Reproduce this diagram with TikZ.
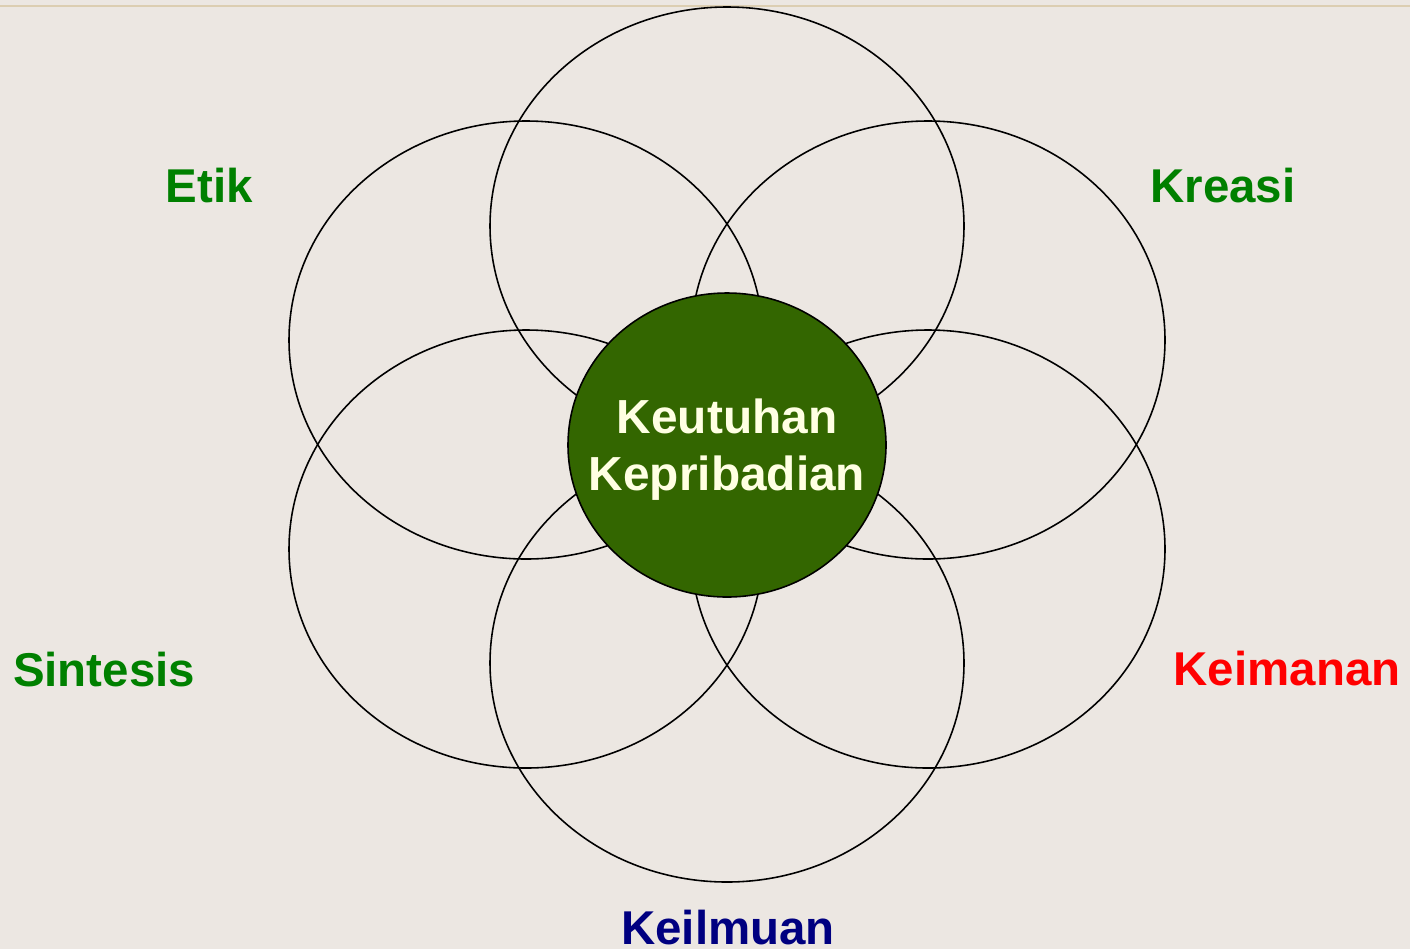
\documentclass[tikz,border=0pt]{standalone}
\usepackage{fontspec}
\setmainfont{Liberation Sans}
\usepackage{xcolor}
\usepackage{tikz}
\usetikzlibrary{shapes}

\definecolor{latar}{HTML}{ECE7E2}
\definecolor{garis}{HTML}{DCCEB2}
\definecolor{hijautua}{HTML}{336600}
\definecolor{krem}{HTML}{FFFFE3}
\definecolor{hijau}{HTML}{008000}
\definecolor{biru}{HTML}{000080}

\tikzset{
  lingkar/.style={draw, line width=0.9pt, ellipse, inner sep=0pt,
    minimum width=9.48cm, minimum height=8.76cm},
  label/.style={anchor=base, font=\bfseries\fontsize{27}{32}\selectfont}
}

\begin{document}
\begin{tikzpicture}
\fill [latar] (0,0) rectangle (28.2,-18.98);
\useasboundingbox (0,0) rectangle (28.2,-18.98);
\draw [garis, line width=0.04cm] (0,-0.11) -- (28.2,-0.11);

\coordinate (tengah) at (14.54,-8.9);

\node [lingkar] (atas) at ([shift={(0,4.38)}]tengah) {};
\node [lingkar] (kiriatas) at ([shift={(-4.02,2.1)}]tengah) {};
\node [lingkar] (kananatas) at ([shift={(4.02,2.1)}]tengah) {};
\node [lingkar] (kiribawah) at ([shift={(-4.02,-2.08)}]tengah) {};
\node [lingkar] (kananbawah) at ([shift={(4.02,-2.08)}]tengah) {};
\node [lingkar] (bawah) at ([shift={(0,-4.36)}]tengah) {};

\node [draw, line width=0.9pt, ellipse, fill=hijautua, inner sep=0pt,
  minimum width=6.36cm, minimum height=6.08cm] (pusat) at (tengah) {};
\node [text=krem, align=center, text depth=0pt,
  font=\bfseries\fontsize{27.2}{32.3}\selectfont]
  (teks) at (pusat) {Keutuhan\\Kepribadian};

\node [label, text=hijau] (etik) at (4.19,-4.04) {Etik};
\node [label, text=hijau] (kreasi) at (24.46,-4.04) {Kreasi};
\node [label, text=hijau] (sintesis) at (2.08,-13.72) {Sintesis};
\node [label, text=red] (keimanan) at (25.74,-13.7) {Keimanan};
\node [label, text=biru] (keilmuan) at (14.56,-18.88) {Keilmuan};
\end{tikzpicture}
\end{document}
